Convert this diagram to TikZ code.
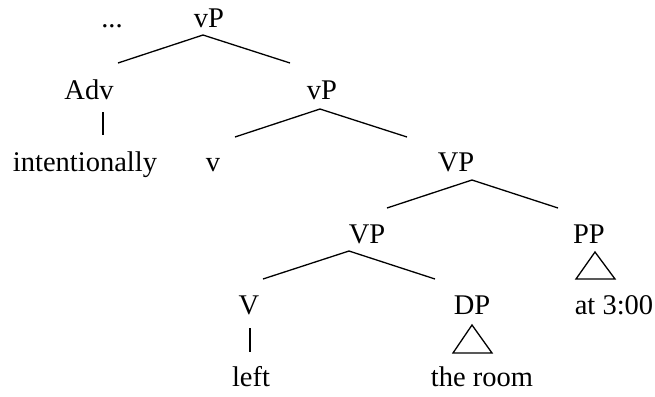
\documentclass[tikz,border=0pt]{standalone}
\usepackage{fontspec}
\setmainfont{Liberation Serif}
\begin{document}
\begin{tikzpicture}[x=0.5pt,y=-0.5pt,
  lbl/.style={anchor=base,inner sep=0pt,font=\fontsize{14.25}{17}\selectfont},
  branch/.style={line width=0.65pt},
  roof/.style={line width=0.65pt,line join=miter}]
\useasboundingbox (0,0) rectangle (655,397);

% category labels and words
\node[lbl] (dots) at (112,27)  {...};
\node[lbl] (vPa)  at (209,27)  {vP};
\node[lbl] (adv)  at (89,99)   {Adv};
\node[lbl] (vPb)  at (322,99)  {vP};
\node[lbl] (intl) at (85,171)  {intentionally};
\node[lbl] (lv)   at (213,171) {v};
\node[lbl] (VPa)  at (456,171) {VP};
\node[lbl] (VPb)  at (367,243) {VP};
\node[lbl] (PP)   at (589,243) {PP};
\node[lbl] (V)    at (249,314) {V};
\node[lbl] (DP)   at (472,314) {DP};
\node[lbl] (at)   at (614,314) {at 3:00};
\node[lbl] (left) at (251,386) {left};
\node[lbl] (room) at (482,386) {the room};

% branch points
\coordinate (vPa-top) at (203,35);
\coordinate (vPa-l)   at (118,63);
\coordinate (vPa-r)   at (290,63);
\coordinate (vPb-top) at (320,109);
\coordinate (vPb-l)   at (235,137);
\coordinate (vPb-r)   at (407,137);
\coordinate (VPa-top) at (472,180);
\coordinate (VPa-l)   at (387,208);
\coordinate (VPa-r)   at (558,208);
\coordinate (VPb-top) at (349,251);
\coordinate (VPb-l)   at (263,279);
\coordinate (VPb-r)   at (435,279);
\coordinate (adv-t)   at (103,112);
\coordinate (adv-b)   at (103,135);
\coordinate (V-t)     at (250,328);
\coordinate (V-b)     at (250,352);

% triangles for unanalysed phrases
\coordinate (PP-top) at (595,252);
\coordinate (PP-l)   at (576,279);
\coordinate (PP-r)   at (615,279);
\coordinate (DP-top) at (472,325);
\coordinate (DP-l)   at (453,353);
\coordinate (DP-r)   at (492,353);

\draw[branch] (vPa-l) -- (vPa-top) -- (vPa-r);
\draw[branch] (vPb-l) -- (vPb-top) -- (vPb-r);
\draw[branch] (VPa-l) -- (VPa-top) -- (VPa-r);
\draw[branch] (VPb-l) -- (VPb-top) -- (VPb-r);
\draw[branch] (adv-t) -- (adv-b);
\draw[branch] (V-t) -- (V-b);
\draw[roof] (PP-top) -- (PP-l) -- (PP-r) -- cycle;
\draw[roof] (DP-top) -- (DP-l) -- (DP-r) -- cycle;
\end{tikzpicture}
\end{document}
